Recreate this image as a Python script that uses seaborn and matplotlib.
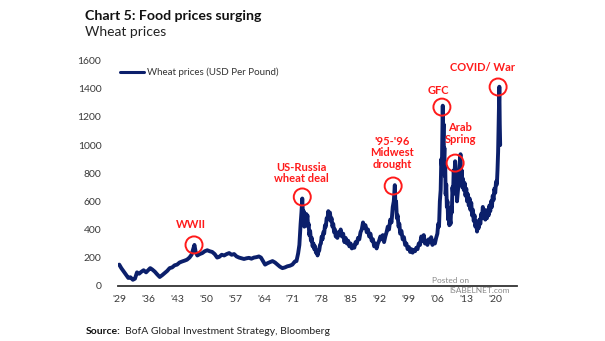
import matplotlib
matplotlib.use("Agg")
import matplotlib.pyplot as plt
import seaborn as sns
import pandas as pd

# ---------------- data ----------------
years_early = [1929.0, 1929.5, 1930.1, 1930.6, 1931.2, 1931.7, 1932.3, 1932.8, 1933.3, 1933.8,
               1934.4, 1934.9, 1935.5, 1936.0, 1936.5, 1937.0, 1937.6, 1938.2, 1938.8, 1939.4,
               1940.0, 1940.6, 1941.2, 1941.8, 1942.4, 1943.0, 1943.6, 1944.2, 1944.8, 1945.4,
               1946.0, 1946.5, 1946.9, 1947.2, 1947.5, 1947.9, 1948.5, 1949.1, 1949.7, 1950.3,
               1950.9, 1951.5, 1952.1, 1952.7, 1953.2, 1953.8, 1954.4, 1955.0, 1955.6, 1956.2,
               1956.8, 1957.4, 1958.0, 1958.6, 1959.2, 1959.8, 1960.4, 1961.0, 1961.6, 1962.2,
               1962.8, 1963.3, 1963.8, 1964.3, 1964.9, 1965.5, 1966.1, 1966.7, 1967.3, 1967.9,
               1968.5, 1969.1, 1969.7, 1970.3, 1970.9, 1971.5, 1971.9, 1972.3, 1972.6, 1972.9,
               1973.1, 1973.3]
prices_early = [150, 125, 100, 80, 55, 60, 42, 50, 95, 85,
                100, 110, 95, 110, 125, 115, 100, 80, 62, 75,
                90, 105, 125, 130, 145, 150, 165, 172, 178, 185,
                200, 220, 260, 290, 240, 215, 225, 232, 245, 252,
                245, 240, 225, 200, 205, 220, 215, 225, 232, 220,
                225, 208, 200, 195, 190, 195, 198, 192, 200, 203,
                208, 200, 175, 150, 160, 168, 175, 165, 150, 135,
                125, 130, 138, 142, 150, 172, 175, 230, 290, 440,
                520, 620]

years_late = [1973.5, 1973.65, 1973.8, 1973.95, 1974.1, 1974.25, 1974.4, 1974.55, 1974.7, 1974.85,
              1975.0, 1975.2, 1975.4, 1975.6, 1975.8, 1976.0, 1976.2, 1976.4, 1976.6, 1976.8,
              1977.0, 1977.2, 1977.4, 1977.6, 1977.8, 1978.0, 1978.2, 1978.4, 1978.6, 1978.8,
              1979.0, 1979.2, 1979.4, 1979.6, 1979.8, 1980.0, 1980.2, 1980.4, 1980.6, 1980.8,
              1981.0, 1981.2, 1981.4, 1981.6, 1981.8, 1982.0, 1982.3, 1982.6, 1982.9, 1983.2,
              1983.5, 1983.8, 1984.1, 1984.4, 1984.7, 1985.0, 1985.3, 1985.6, 1985.9, 1986.2,
              1986.5, 1986.8, 1987.1, 1987.4, 1987.7, 1988.0, 1988.3, 1988.6, 1988.9, 1989.2,
              1989.5, 1989.8, 1990.1, 1990.4, 1990.7, 1991.0, 1991.3, 1991.6, 1991.9, 1992.2,
              1992.5, 1992.8, 1993.1, 1993.4, 1993.7, 1994.0, 1994.3, 1994.6, 1994.9, 1995.2,
              1995.45, 1995.7, 1995.85, 1996.0, 1996.2, 1996.4, 1996.6, 1996.8, 1997.0, 1997.3,
              1997.6, 1997.9, 1998.2, 1998.5, 1998.8, 1999.1, 1999.4, 1999.7, 2000.0, 2000.3,
              2000.6, 2000.9, 2001.2, 2001.5, 2001.8, 2002.1, 2002.4, 2002.7, 2003.0, 2003.3,
              2003.6, 2003.9, 2004.2, 2004.5, 2004.8, 2005.1, 2005.4, 2005.7, 2006.0, 2006.2,
              2006.4, 2006.6, 2006.8, 2006.95, 2007.1, 2007.3, 2007.4, 2007.5, 2007.6, 2007.7,
              2007.8, 2007.9, 2008.0, 2008.15, 2008.3, 2008.45, 2008.6, 2008.75, 2008.9, 2009.05,
              2009.2, 2009.35, 2009.5, 2009.65, 2009.8, 2009.95, 2010.1, 2010.3, 2010.45, 2010.6,
              2010.75, 2010.9, 2011.05, 2011.2, 2011.35, 2011.6, 2011.75, 2011.9, 2012.05, 2012.2,
              2012.4, 2012.6, 2012.8, 2013.0, 2013.2, 2013.4, 2013.6, 2013.8, 2014.0, 2014.2,
              2014.4, 2014.6, 2014.8, 2015.0, 2015.2, 2015.4, 2015.6, 2015.8, 2016.0, 2016.2,
              2016.4, 2016.6, 2016.8, 2017.0, 2017.2, 2017.4, 2017.6, 2017.8, 2018.0, 2018.2,
              2018.4, 2018.6, 2018.8, 2019.0, 2019.2, 2019.4, 2019.6, 2019.8, 2020.0, 2020.2,
              2020.4, 2020.55, 2020.7, 2020.8, 2020.9, 2021.0, 2021.1, 2021.2]
prices_late = [480, 530, 420, 470, 440, 510, 470, 500, 420, 440,
               360, 390, 320, 340, 280, 300, 260, 280, 235, 250,
               215, 240, 250, 290, 300, 350, 330, 380, 370, 430,
               420, 480, 470, 530, 500, 520, 460, 480, 420, 440,
               380, 400, 350, 370, 340, 380, 360, 400, 350, 370,
               310, 340, 300, 320, 280, 300, 265, 285, 270, 310,
               300, 340, 330, 380, 400, 450, 410, 430, 380, 400,
               350, 370, 320, 330, 280, 300, 265, 300, 320, 350,
               330, 360, 310, 350, 380, 420, 400, 470, 450, 560,
               600, 715, 560, 600, 480, 500, 420, 440, 370, 390,
               330, 345, 290, 300, 260, 275, 240, 260, 235, 255,
               245, 270, 260, 300, 290, 350, 320, 360, 300, 320,
               290, 330, 310, 345, 290, 320, 300, 340, 370, 440,
               420, 600, 680, 900, 850, 1280, 1050, 1150, 900, 980,
               780, 850, 650, 720, 560, 600, 470, 520, 430, 470,
               440, 560, 520, 700, 650, 820, 760, 885, 760, 800,
               600, 650, 700, 780, 850, 935, 760, 820, 700, 760,
               680, 730, 640, 690, 600, 650, 570, 620, 540, 590,
               500, 540, 460, 500, 420, 460, 385, 430, 410, 470,
               440, 510, 480, 560, 500, 540, 470, 520, 480, 540,
               500, 570, 530, 600, 560, 640, 610, 690, 660, 740,
               720, 820, 950, 1100, 1250, 1415, 1150, 1000]

years = years_early + years_late
prices = prices_early + prices_late

tick_years = [1929, 1936, 1943, 1950, 1957, 1964, 1971, 1978, 1985, 1992, 1999, 2006, 2013, 2020]
tick_labels = ["'29", "'36", "'43", "'50", "'57", "'64", "'71", "'78", "'85", "'92", "'99", "'06", "'13", "'20"]
y_ticks = [0, 200, 400, 600, 800, 1000, 1200, 1400, 1600]

anno_texts = ["WWII", "US-Russia\nwheat deal", "'95-'96\nMidwest\ndrought", "GFC", "Arab\nSpring", "COVID/ War"]
anno_years = [1947.1, 1973.3, 1995.3, 2007.1, 2010.3, 2020.7]
anno_values = [290, 631, 709, 1270, 872, 1413]

series_name = "Wheat prices (USD Per Pound)"

# ---------------- styling / layout ----------------
W, H = 605, 341
sns.set_theme(style="white")
plt.rcParams["font.family"] = ["Lato", "DejaVu Sans"]

NAVY = "#0b1f6b"
RED = "#ff1a1a"

fig = plt.figure(figsize=(W / 100, H / 100), dpi=100)
ax = fig.add_axes([118 / W, 1 - 285.7 / H, (516.7 - 118) / W, (285.7 - 60.7) / H])

df = pd.DataFrame({"year": years, "price": prices})
sns.lineplot(data=df, x="year", y="price", ax=ax, color=NAVY, linewidth=2.8,
             label=series_name, zorder=2)

ax.set_xlim(1928.7, 2025.2)
ax.set_ylim(0, 1600)
ax.set_xticks(tick_years)
ax.set_xticklabels(tick_labels)
ax.set_yticks(y_ticks)
ax.set_yticklabels([str(v) for v in y_ticks])
ax.set_xlabel("")
ax.set_ylabel("")
ax.tick_params(axis="both", length=0, labelsize=7.5, labelcolor="#3a3a3a")
ax.tick_params(axis="x", pad=7)
ax.tick_params(axis="y", pad=12)
for s in ["top", "right", "left"]:
    ax.spines[s].set_visible(False)
ax.spines["bottom"].set_color("#333333")
ax.spines["bottom"].set_linewidth(1.3)
ax.spines["bottom"].set_zorder(1)
ax.grid(False)

leg = ax.legend(loc="upper left", bbox_to_anchor=((116 - 118) / (516.7 - 118), 1 + (60.7 - 64) / 225),
                frameon=False, fontsize=7, handlelength=2.5, handletextpad=0.25,
                borderaxespad=0)
for t in leg.get_texts():
    t.set_color("#333333")
for l in leg.get_lines():
    l.set_linewidth(2.2)

# annotation circles and labels
ax.scatter(anno_years, anno_values, s=150, facecolors="none", edgecolors=RED,
           linewidths=1.4, zorder=4)
offsets_px = [(-3, 20), (-1, 24), (-1, 33), (-4, 17), (5, 30), (-16, 19.5)]
for txt, xv, yv, (dx, dy) in zip(anno_texts, anno_years, anno_values, offsets_px):
    ax.annotate(txt, xy=(xv, yv), xytext=(dx / 1.389, dy / 1.389), textcoords="offset points",
                ha="center", va="center", color=RED, fontsize=8, fontweight="bold",
                linespacing=1.1, zorder=5)

# titles
fig.text(85 / W, 1 - 15.5 / H, "Chart 5: Food prices surging", fontsize=10.2,
         fontweight="bold", color="#111111", ha="left", va="center")
fig.text(85 / W, 1 - 32 / H, "Wheat prices", fontsize=10, color="#222222",
         ha="left", va="center")

# source
t1 = fig.text(86 / W, 1 - 332 / H, "Source:", fontsize=7.5, fontweight="bold",
              color="#111111", ha="left", va="center")
ax.annotate("BofA Global Investment Strategy, Bloomberg", xy=(1, 0.5), xycoords=t1,
            xytext=(3, 0), textcoords="offset points", fontsize=7.5, color="#222222",
            ha="left", va="center", annotation_clip=False)

# watermark
fig.text(451 / W, 1 - 280.5 / H, "Posted on", fontsize=6, color="#8a8a8a",
         ha="center", va="center")
fig.text(480 / W, 1 - 290.5 / H, "ISABELNET.com", fontsize=6, color="#8a8a8a",
         ha="center", va="center")

fig.savefig("out.png", dpi=100)
